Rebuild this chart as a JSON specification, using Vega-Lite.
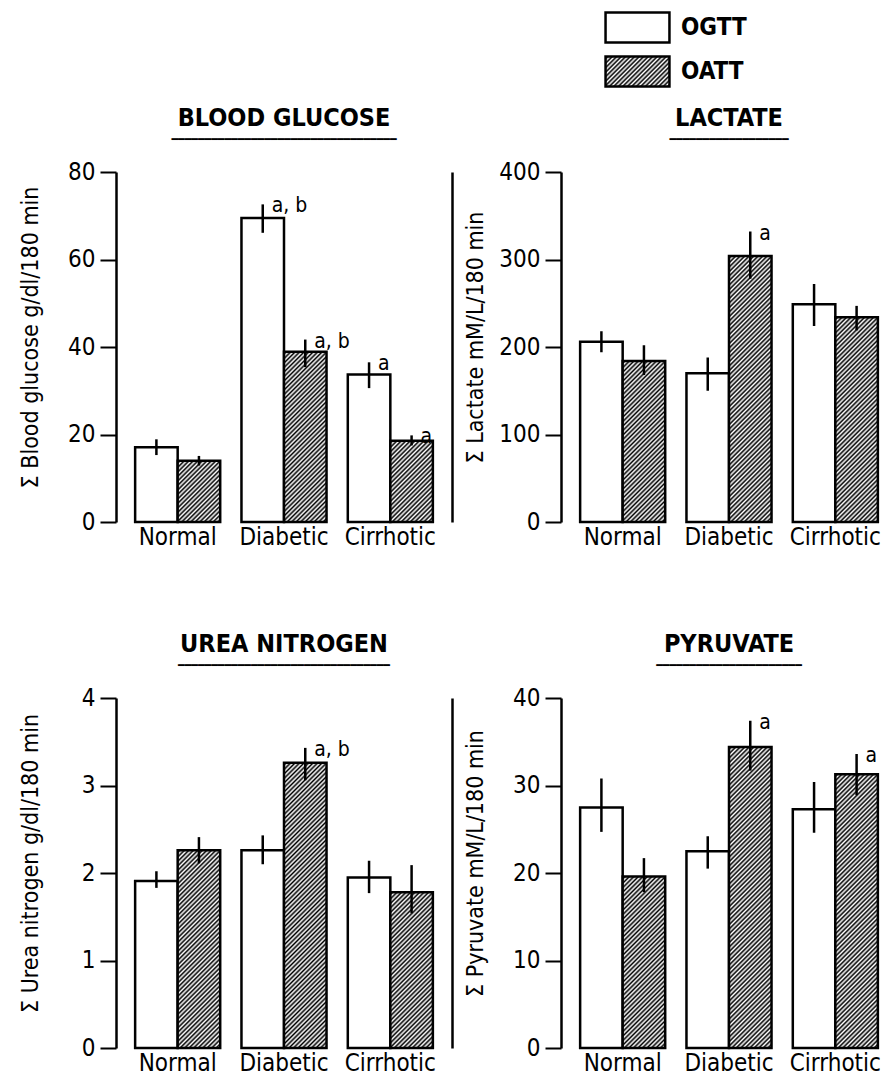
{
  "$schema": "https://vega.github.io/schema/vega-lite/v6.json",
  "background": "white",
  "padding": {"left": 19, "top": 11, "right": 0, "bottom": 0},
  "autosize": {"type": "pad"},
  "params": [
    {"name": "hatch", "value": [
      {"offset":0,"color":"#fff"},{"offset":0.005,"color":"#000"},{"offset":0.01,"color":"#fff"},{"offset":0.015,"color":"#000"},{"offset":0.02,"color":"#fff"},{"offset":0.025,"color":"#000"},{"offset":0.03,"color":"#fff"},{"offset":0.035,"color":"#000"},{"offset":0.04,"color":"#fff"},{"offset":0.045,"color":"#000"},
      {"offset":0.05,"color":"#fff"},{"offset":0.055,"color":"#000"},{"offset":0.06,"color":"#fff"},{"offset":0.065,"color":"#000"},{"offset":0.07,"color":"#fff"},{"offset":0.075,"color":"#000"},{"offset":0.08,"color":"#fff"},{"offset":0.085,"color":"#000"},{"offset":0.09,"color":"#fff"},{"offset":0.095,"color":"#000"},
      {"offset":0.1,"color":"#fff"},{"offset":0.105,"color":"#000"},{"offset":0.11,"color":"#fff"},{"offset":0.115,"color":"#000"},{"offset":0.12,"color":"#fff"},{"offset":0.125,"color":"#000"},{"offset":0.13,"color":"#fff"},{"offset":0.135,"color":"#000"},{"offset":0.14,"color":"#fff"},{"offset":0.145,"color":"#000"},
      {"offset":0.15,"color":"#fff"},{"offset":0.155,"color":"#000"},{"offset":0.16,"color":"#fff"},{"offset":0.165,"color":"#000"},{"offset":0.17,"color":"#fff"},{"offset":0.175,"color":"#000"},{"offset":0.18,"color":"#fff"},{"offset":0.185,"color":"#000"},{"offset":0.19,"color":"#fff"},{"offset":0.195,"color":"#000"},
      {"offset":0.2,"color":"#fff"},{"offset":0.205,"color":"#000"},{"offset":0.21,"color":"#fff"},{"offset":0.215,"color":"#000"},{"offset":0.22,"color":"#fff"},{"offset":0.225,"color":"#000"},{"offset":0.23,"color":"#fff"},{"offset":0.235,"color":"#000"},{"offset":0.24,"color":"#fff"},{"offset":0.245,"color":"#000"},
      {"offset":0.25,"color":"#fff"},{"offset":0.255,"color":"#000"},{"offset":0.26,"color":"#fff"},{"offset":0.265,"color":"#000"},{"offset":0.27,"color":"#fff"},{"offset":0.275,"color":"#000"},{"offset":0.28,"color":"#fff"},{"offset":0.285,"color":"#000"},{"offset":0.29,"color":"#fff"},{"offset":0.295,"color":"#000"},
      {"offset":0.3,"color":"#fff"},{"offset":0.305,"color":"#000"},{"offset":0.31,"color":"#fff"},{"offset":0.315,"color":"#000"},{"offset":0.32,"color":"#fff"},{"offset":0.325,"color":"#000"},{"offset":0.33,"color":"#fff"},{"offset":0.335,"color":"#000"},{"offset":0.34,"color":"#fff"},{"offset":0.345,"color":"#000"},
      {"offset":0.35,"color":"#fff"},{"offset":0.355,"color":"#000"},{"offset":0.36,"color":"#fff"},{"offset":0.365,"color":"#000"},{"offset":0.37,"color":"#fff"},{"offset":0.375,"color":"#000"},{"offset":0.38,"color":"#fff"},{"offset":0.385,"color":"#000"},{"offset":0.39,"color":"#fff"},{"offset":0.395,"color":"#000"},
      {"offset":0.4,"color":"#fff"},{"offset":0.405,"color":"#000"},{"offset":0.41,"color":"#fff"},{"offset":0.415,"color":"#000"},{"offset":0.42,"color":"#fff"},{"offset":0.425,"color":"#000"},{"offset":0.43,"color":"#fff"},{"offset":0.435,"color":"#000"},{"offset":0.44,"color":"#fff"},{"offset":0.445,"color":"#000"},
      {"offset":0.45,"color":"#fff"},{"offset":0.455,"color":"#000"},{"offset":0.46,"color":"#fff"},{"offset":0.465,"color":"#000"},{"offset":0.47,"color":"#fff"},{"offset":0.475,"color":"#000"},{"offset":0.48,"color":"#fff"},{"offset":0.485,"color":"#000"},{"offset":0.49,"color":"#fff"},{"offset":0.495,"color":"#000"},
      {"offset":0.5,"color":"#fff"},{"offset":0.505,"color":"#000"},{"offset":0.51,"color":"#fff"},{"offset":0.515,"color":"#000"},{"offset":0.52,"color":"#fff"},{"offset":0.525,"color":"#000"},{"offset":0.53,"color":"#fff"},{"offset":0.535,"color":"#000"},{"offset":0.54,"color":"#fff"},{"offset":0.545,"color":"#000"},
      {"offset":0.55,"color":"#fff"},{"offset":0.555,"color":"#000"},{"offset":0.56,"color":"#fff"},{"offset":0.565,"color":"#000"},{"offset":0.57,"color":"#fff"},{"offset":0.575,"color":"#000"},{"offset":0.58,"color":"#fff"},{"offset":0.585,"color":"#000"},{"offset":0.59,"color":"#fff"},{"offset":0.595,"color":"#000"},
      {"offset":0.6,"color":"#fff"},{"offset":0.605,"color":"#000"},{"offset":0.61,"color":"#fff"},{"offset":0.615,"color":"#000"},{"offset":0.62,"color":"#fff"},{"offset":0.625,"color":"#000"},{"offset":0.63,"color":"#fff"},{"offset":0.635,"color":"#000"},{"offset":0.64,"color":"#fff"},{"offset":0.645,"color":"#000"},
      {"offset":0.65,"color":"#fff"},{"offset":0.655,"color":"#000"},{"offset":0.66,"color":"#fff"},{"offset":0.665,"color":"#000"},{"offset":0.67,"color":"#fff"},{"offset":0.675,"color":"#000"},{"offset":0.68,"color":"#fff"},{"offset":0.685,"color":"#000"},{"offset":0.69,"color":"#fff"},{"offset":0.695,"color":"#000"},
      {"offset":0.7,"color":"#fff"},{"offset":0.705,"color":"#000"},{"offset":0.71,"color":"#fff"},{"offset":0.715,"color":"#000"},{"offset":0.72,"color":"#fff"},{"offset":0.725,"color":"#000"},{"offset":0.73,"color":"#fff"},{"offset":0.735,"color":"#000"},{"offset":0.74,"color":"#fff"},{"offset":0.745,"color":"#000"},
      {"offset":0.75,"color":"#fff"},{"offset":0.755,"color":"#000"},{"offset":0.76,"color":"#fff"},{"offset":0.765,"color":"#000"},{"offset":0.77,"color":"#fff"},{"offset":0.775,"color":"#000"},{"offset":0.78,"color":"#fff"}
    ]}
  ],
  "config": {
    "view": {"stroke": null},
    "font": "DejaVu Sans Condensed, DejaVu Sans, sans-serif",
    "axis": {"domainColor": "black", "tickColor": "black", "labelColor": "black", "titleColor": "black", "grid": false},
    "axisY": {"domainWidth": 2.5, "tickWidth": 2, "tickSize": 16, "labelFontSize": 24, "labelPadding": 5, "titleFontSize": 23, "titleFontWeight": "normal", "titleAngle": -90, "titleX": -79, "titleY": 165, "titleBaseline": "alphabetic", "titleAlign": "center"},
    "axisX": {"domain": false, "ticks": false, "labelFontSize": 24, "labelPadding": 3, "labelAngle": 0},
    "title": {"fontSize": 25, "fontWeight": "bold", "anchor": "middle", "color": "black", "subtitleFont": "DejaVu Sans", "subtitleFontSize": 11, "subtitleColor": "black", "subtitlePadding": 0, "offset": 15},
    "bar": {"stroke": "black", "strokeWidth": 2.5},
    "rule": {"stroke": "black", "strokeWidth": 2.5},
    "text": {"fontSize": 21, "align": "left", "baseline": "alphabetic", "dx": 9, "dy": 8, "color": "black"}
  },
  "bounds": "flush",
  "columns": 2,
  "spacing": {"row": 176, "column": 109},
  "datasets": {
    "glucose": [
      {"group": "Normal", "test": "OGTT", "value": 17.1, "lo": 15.3, "hi": 18.9, "note": ""},
      {"group": "Normal", "test": "OATT", "value": 14.0, "lo": 12.9, "hi": 15.1, "note": ""},
      {"group": "Diabetic", "test": "OGTT", "value": 69.5, "lo": 66.1, "hi": 72.6, "note": "a, b"},
      {"group": "Diabetic", "test": "OATT", "value": 38.9, "lo": 35.4, "hi": 41.7, "note": "a, b"},
      {"group": "Cirrhotic", "test": "OGTT", "value": 33.7, "lo": 30.6, "hi": 36.5, "note": "a"},
      {"group": "Cirrhotic", "test": "OATT", "value": 18.6, "lo": 17.5, "hi": 19.8, "note": "a"}
    ],
    "lactate": [
      {"group": "Normal", "test": "OGTT", "value": 206, "lo": 194, "hi": 218, "note": ""},
      {"group": "Normal", "test": "OATT", "value": 184, "lo": 168, "hi": 202, "note": ""},
      {"group": "Diabetic", "test": "OGTT", "value": 170, "lo": 150, "hi": 188, "note": ""},
      {"group": "Diabetic", "test": "OATT", "value": 304, "lo": 278, "hi": 332, "note": "a"},
      {"group": "Cirrhotic", "test": "OGTT", "value": 249, "lo": 224, "hi": 272, "note": ""},
      {"group": "Cirrhotic", "test": "OATT", "value": 234, "lo": 219, "hi": 247, "note": ""}
    ],
    "urea": [
      {"group": "Normal", "test": "OGTT", "value": 1.91, "lo": 1.83, "hi": 2.02, "note": ""},
      {"group": "Normal", "test": "OATT", "value": 2.26, "lo": 2.11, "hi": 2.41, "note": ""},
      {"group": "Diabetic", "test": "OGTT", "value": 2.26, "lo": 2.1, "hi": 2.43, "note": ""},
      {"group": "Diabetic", "test": "OATT", "value": 3.26, "lo": 3.06, "hi": 3.43, "note": "a, b"},
      {"group": "Cirrhotic", "test": "OGTT", "value": 1.95, "lo": 1.77, "hi": 2.14, "note": ""},
      {"group": "Cirrhotic", "test": "OATT", "value": 1.78, "lo": 1.54, "hi": 2.09, "note": ""}
    ],
    "pyruvate": [
      {"group": "Normal", "test": "OGTT", "value": 27.5, "lo": 24.7, "hi": 30.8, "note": ""},
      {"group": "Normal", "test": "OATT", "value": 19.6, "lo": 17.8, "hi": 21.7, "note": ""},
      {"group": "Diabetic", "test": "OGTT", "value": 22.5, "lo": 20.5, "hi": 24.2, "note": ""},
      {"group": "Diabetic", "test": "OATT", "value": 34.4, "lo": 31.7, "hi": 37.4, "note": "a"},
      {"group": "Cirrhotic", "test": "OGTT", "value": 27.3, "lo": 24.6, "hi": 30.4, "note": ""},
      {"group": "Cirrhotic", "test": "OATT", "value": 31.3, "lo": 28.9, "hi": 33.6, "note": "a"}
    ]
  },
  "concat": [
    {
      "title": {"text": "BLOOD GLUCOSE", "subtitle": "━━━━━━━━━━━━━━━━━━━━━━━━━━━━━━━━━━"},
      "width": 336, "height": 350,
      "data": {"name": "glucose"},
      "encoding": {
        "x": {"field": "group", "type": "nominal", "sort": ["Normal", "Diabetic", "Cirrhotic"], "scale": {"paddingInner": 0.2, "paddingOuter": 0.18}, "axis": {"title": null}},
        "xOffset": {"field": "test", "type": "nominal", "sort": ["OGTT", "OATT"], "scale": {"paddingInner": 0, "paddingOuter": 0}}
      },
      "layer": [
        {"mark": {"type": "bar", "fill": {"expr": "datum.test == 'OGTT' ? 'white' : {gradient: 'linear', x1: 0, y1: 0, x2: 19125 / (1806.25 + pow(datum.value * 4.375, 2)), y2: 450 * datum.value * 4.375 / (1806.25 + pow(datum.value * 4.375, 2)), stops: hatch}"}},
         "encoding": {"y": {"field": "value", "type": "quantitative", "scale": {"domain": [0, 80]}, "axis": {"values": [0, 20, 40, 60, 80], "title": "Σ Blood glucose g/dl/180 min"}}}},
        {"mark": "rule", "encoding": {"y": {"field": "lo", "type": "quantitative", "axis": null}, "y2": {"field": "hi"}}},
        {"mark": "text", "encoding": {"y": {"field": "hi", "type": "quantitative", "axis": {"orient": "right", "labels": false, "ticks": false, "title": null}}, "text": {"field": "note"}}}
      ],
      "resolve": {"axis": {"y": "independent"}}
    },
    {
      "title": {"text": "LACTATE", "subtitle": "━━━━━━━━━━━━━━━━━━"},
      "width": 336, "height": 350,
      "data": {"name": "lactate"},
      "encoding": {
        "x": {"field": "group", "type": "nominal", "sort": ["Normal", "Diabetic", "Cirrhotic"], "scale": {"paddingInner": 0.2, "paddingOuter": 0.18}, "axis": {"title": null}},
        "xOffset": {"field": "test", "type": "nominal", "sort": ["OGTT", "OATT"], "scale": {"paddingInner": 0, "paddingOuter": 0}}
      },
      "layer": [
        {"mark": {"type": "bar", "fill": {"expr": "datum.test == 'OATT' ? {gradient: 'linear', x1: 0, y1: 0, x2: 19125 / (1806.25 + pow(datum.value * 0.875, 2)), y2: 450 * datum.value * 0.875 / (1806.25 + pow(datum.value * 0.875, 2)), stops: hatch} : datum.value == 'OATT' ? {gradient: 'linear', x1: 0, y1: 0, x2: 5.765, y2: 2.702, stops: hatch} : 'white'"}},
         "encoding": {
           "y": {"field": "value", "type": "quantitative", "scale": {"domain": [0, 400]}, "axis": {"values": [0, 100, 200, 300, 400], "title": "Σ Lactate mM/L/180 min"}},
           "stroke": {"field": "test", "type": "nominal", "scale": {"domain": ["OGTT", "OATT"], "range": ["black", "black"]},
             "legend": {"orient": "none", "legendX": 505, "legendY": -161, "title": null, "padding": 0,
               "symbolType": "M-2.13,-1H2.13V1H-2.13Z", "symbolSize": 900, "symbolStrokeWidth": 2.5,
               "labelFontSize": 24, "labelFontWeight": "bold", "labelColor": "black", "labelOffset": 27, "rowPadding": 3}}
         }},
        {"mark": "rule", "encoding": {"y": {"field": "lo", "type": "quantitative", "axis": null}, "y2": {"field": "hi"}}},
        {"mark": "text", "encoding": {"y": {"field": "hi", "type": "quantitative", "axis": null}, "text": {"field": "note"}}}
      ],
      "resolve": {"axis": {"y": "independent"}}
    },
    {
      "title": {"text": "UREA NITROGEN", "subtitle": "━━━━━━━━━━━━━━━━━━━━━━━━━━━━━━━━"},
      "width": 336, "height": 350,
      "data": {"name": "urea"},
      "encoding": {
        "x": {"field": "group", "type": "nominal", "sort": ["Normal", "Diabetic", "Cirrhotic"], "scale": {"paddingInner": 0.2, "paddingOuter": 0.18}, "axis": {"title": null}},
        "xOffset": {"field": "test", "type": "nominal", "sort": ["OGTT", "OATT"], "scale": {"paddingInner": 0, "paddingOuter": 0}}
      },
      "layer": [
        {"mark": {"type": "bar", "fill": {"expr": "datum.test == 'OGTT' ? 'white' : {gradient: 'linear', x1: 0, y1: 0, x2: 19125 / (1806.25 + pow(datum.value * 87.5, 2)), y2: 450 * datum.value * 87.5 / (1806.25 + pow(datum.value * 87.5, 2)), stops: hatch}"}},
         "encoding": {"y": {"field": "value", "type": "quantitative", "scale": {"domain": [0, 4]}, "axis": {"values": [0, 1, 2, 3, 4], "title": "Σ Urea nitrogen g/dl/180 min"}}}},
        {"mark": "rule", "encoding": {"y": {"field": "lo", "type": "quantitative", "axis": null}, "y2": {"field": "hi"}}},
        {"mark": "text", "encoding": {"y": {"field": "hi", "type": "quantitative", "axis": {"orient": "right", "labels": false, "ticks": false, "title": null}}, "text": {"field": "note"}}}
      ],
      "resolve": {"axis": {"y": "independent"}}
    },
    {
      "title": {"text": "PYRUVATE", "subtitle": "━━━━━━━━━━━━━━━━━━━━━━"},
      "width": 336, "height": 350,
      "data": {"name": "pyruvate"},
      "encoding": {
        "x": {"field": "group", "type": "nominal", "sort": ["Normal", "Diabetic", "Cirrhotic"], "scale": {"paddingInner": 0.2, "paddingOuter": 0.18}, "axis": {"title": null}},
        "xOffset": {"field": "test", "type": "nominal", "sort": ["OGTT", "OATT"], "scale": {"paddingInner": 0, "paddingOuter": 0}}
      },
      "layer": [
        {"mark": {"type": "bar", "fill": {"expr": "datum.test == 'OGTT' ? 'white' : {gradient: 'linear', x1: 0, y1: 0, x2: 19125 / (1806.25 + pow(datum.value * 8.75, 2)), y2: 450 * datum.value * 8.75 / (1806.25 + pow(datum.value * 8.75, 2)), stops: hatch}"}},
         "encoding": {"y": {"field": "value", "type": "quantitative", "scale": {"domain": [0, 40]}, "axis": {"values": [0, 10, 20, 30, 40], "title": "Σ Pyruvate mM/L/180 min"}}}},
        {"mark": "rule", "encoding": {"y": {"field": "lo", "type": "quantitative", "axis": null}, "y2": {"field": "hi"}}},
        {"mark": "text", "encoding": {"y": {"field": "hi", "type": "quantitative", "axis": null}, "text": {"field": "note"}}}
      ],
      "resolve": {"axis": {"y": "independent"}}
    }
  ]
}
